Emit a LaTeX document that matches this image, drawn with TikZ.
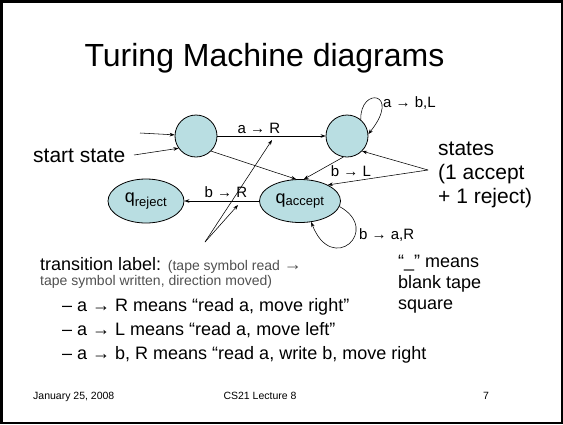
\documentclass[tikz,border=0pt]{standalone}
\usepackage{fontspec}
\setmainfont{Liberation Sans}
\usetikzlibrary{arrows.meta,shapes.geometric}
\definecolor{stfill}{RGB}{185,222,226}
\definecolor{smallgray}{RGB}{80,80,80}
\tikzset{
  st/.style={draw=black, line width=0.8pt, fill=stfill, inner sep=0pt},
  cstate/.style={st, circle, minimum size=42pt},
  estate/.style={st, ellipse, minimum width=78pt, minimum height=44pt},
  conn/.style={draw=black, line width=0.55pt, -{Stealth[length=5pt,width=3.6pt]}},
  lab/.style={font=\fontsize{15}{17}\selectfont, inner sep=0pt},
  big/.style={font=\fontsize{18}{20}\selectfont, inner sep=0pt},
}
\begin{document}
\begin{tikzpicture}[x=1pt,y=-1pt]
\useasboundingbox (0,0) rectangle (563,424);
\draw[line width=2.5pt] (1.25,1.25) rectangle (561.75,422.75);
% title
\node[anchor=base, inner sep=0pt, font=\fontsize{32}{36}\selectfont] (title) at (264.5,66) {Turing Machine diagrams};
% states
\node[cstate] (s1) at (196,136) {};
\node[cstate] (s2) at (347,136) {};
\node[estate, minimum width=76pt] (qr) at (146,201) {\fontsize{18}{20}\selectfont q\textsubscript{\fontsize{13}{14}\selectfont reject}};
\node[estate, minimum width=81pt, minimum height=43pt] (qa) at (300,201) {\fontsize{18}{20}\selectfont q\textsubscript{\fontsize{13}{14}\selectfont accept}};
% start
\coordinate (in) at (140,133);
\draw[conn] (in) -- (s1);
\node[anchor=base west, inner sep=0pt, font=\fontsize{21}{24}\selectfont] (ss) at (33,162) {start state};
\coordinate (ssend) at (134,155);
\draw[conn] (ssend) -- (s1.-145);
% transitions
\draw[conn] (s1) -- (s2);
\node[lab, anchor=base] (lar) at (259,133) {a → R};
\draw[conn] (s1.-45) -- (qa.100);
\draw[conn] (s2.-100) -- (qa.80);
\node[lab, anchor=base] (lbl) at (351,176) {b → L};
\draw[conn] (s2.50) .. controls (360,86) and (402,92) .. (s2.5);
\node[lab, anchor=base west] (lab2) at (383,107) {a → b,L};
\draw[conn] (qa.-8) .. controls (382,230) and (332,276) .. (qa.-62);
\node[lab, anchor=base west] (lba) at (359,239) {b → a,R};
\draw[conn] (qa) -- (qr);
\node[lab, anchor=base] (lbr) at (226,197) {b → R};
% states pointer
\node[anchor=base west, inner sep=0pt, align=left, font=\fontsize{21}{24}\selectfont] (stt) at (438,203) {states\\(1 accept\\+ 1 reject)};
\coordinate (stp) at (428,170);
\draw[conn] (stp) -- (s2.-45);
\draw[conn] (stp) -- (qa.30);
% transition label pointers
\coordinate (tl) at (205,242);
\coordinate (ptA) at (272,140);
\coordinate (ptB) at (238,205);
\draw[conn] (tl) -- (ptA);
\draw[conn] (tl) -- (ptB);
% text block
\node[big, anchor=base west] (t1) at (40,270) {transition label: {\color{smallgray}\fontsize{14}{15}\selectfont (tape symbol read\hspace{4pt}{\fontsize{18}{18}\selectfont →}}};
\node[anchor=base west, inner sep=0pt, text=smallgray, font=\fontsize{14}{15}\selectfont] (t2) at (40,285) {tape symbol written, direction moved)};
\node[big, anchor=base west] (b1) at (62,311) {– a → R means “read a, move right”};
\node[big, anchor=base west] (b2) at (62,335) {– a → L means “read a, move left”};
\node[big, anchor=base west] (b3) at (62,359) {– a → b, R means “read a, write b, move right};
\node[big, anchor=base west] (r1) at (398,267) {“\_” means};
\node[big, anchor=base west] (r2) at (398,288) {blank tape};
\node[big, anchor=base west] (r3) at (398,309) {square};
% footer
\node[anchor=base west, inner sep=0pt, font=\fontsize{10.5}{12}\selectfont] (f1) at (33,399) {January 25, 2008};
\node[anchor=base, inner sep=0pt, font=\fontsize{10.5}{12}\selectfont] (f2) at (260,399) {CS21 Lecture 8};
\node[anchor=base, inner sep=0pt, font=\fontsize{10.5}{12}\selectfont] (f3) at (486,399) {7};
\end{tikzpicture}
\end{document}
